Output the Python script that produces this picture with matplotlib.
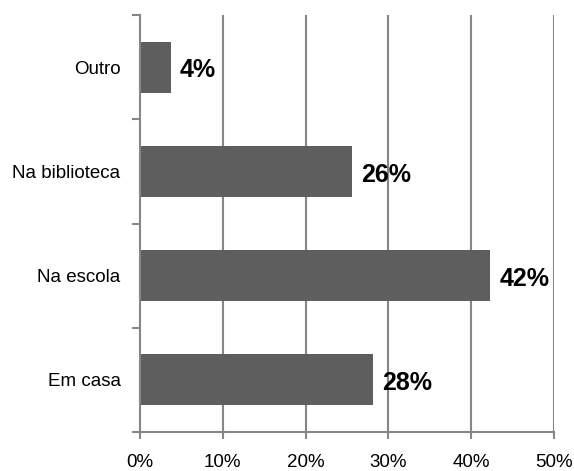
import matplotlib
matplotlib.use("Agg")
from matplotlib import pyplot as plt
from matplotlib.ticker import FixedLocator

categories = ["Em casa", "Na escola", "Na biblioteca", "Outro"]
values = [28.2, 42.3, 25.6, 3.7]
labels = ["28%", "42%", "26%", "4%"]
xticks = [0, 10, 20, 30, 40, 50]
xticklabels = ["0%", "10%", "20%", "30%", "40%", "50%"]

plt.rcParams['font.family'] = ['Liberation Sans', 'DejaVu Sans']

fig = plt.figure(figsize=(5.74, 4.71), dpi=100)
ax = fig.add_axes([140 / 574, 39 / 471, 414 / 574, 417 / 471])

grey = "#868686"
pos = list(range(len(categories)))
ax.barh(pos, values, height=0.49, color="#5e5e5e", zorder=2)

# value labels sit a little below the bar centre, as in the original
for p, v, t in zip(pos, values, labels):
    ax.text(v + 1.1, p - 0.03, t, va="center", ha="left", fontsize=18,
            fontweight="bold", color="black", zorder=3)

ax.set_xlim(0, 50)
ax.set_ylim(-0.5, len(categories) - 0.5)
ax.set_xticks(xticks)
ax.set_xticklabels(xticklabels, fontsize=13.5)
ax.set_yticks(pos)
ax.set_yticklabels(categories, fontsize=13.5)
ax.tick_params(axis="y", length=0, pad=14)
ax.yaxis.set_minor_locator(FixedLocator([p - 0.5 for p in pos] + [len(pos) - 0.5]))
ax.tick_params(axis="y", which="minor", length=6, width=1.5, color=grey)
ax.tick_params(axis="x", length=5, width=1.5, color=grey, pad=11)

for x in xticks[1:]:
    ax.axvline(x, color=grey, linewidth=1.5, zorder=1)

for side in ["top", "right"]:
    ax.spines[side].set_visible(False)
for side in ["left", "bottom"]:
    ax.spines[side].set_color(grey)
    ax.spines[side].set_linewidth(1.5)

plt.savefig("out.png", dpi=100)
